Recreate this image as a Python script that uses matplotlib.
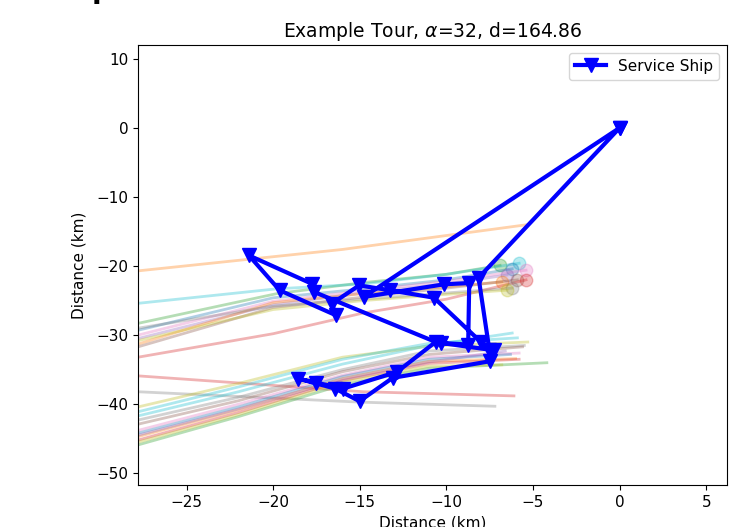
import matplotlib
matplotlib.use("Agg")
import matplotlib.pyplot as plt

# service ship tour (km), visiting order
tour_x = [0, -8.14, -7.52, -8.01, -10.72, -13.23, -15.03, -16.62, -16.37, -19.62,
          -21.40, -17.78, -17.63, -10.62, -12.85, -15.94, -17.55, -18.56, -16.43,
          -15.01, -13.10, -7.47, -7.27, -10.33, -8.74, -8.68, -10.14, -14.78, 0]
tour_y = [0, -21.69, -32.10, -30.99, -24.58, -23.52, -22.80, -25.45, -27.13, -23.52,
          -18.46, -22.55, -23.76, -30.99, -35.33, -37.73, -36.87, -36.29, -37.73,
          -39.57, -36.19, -33.78, -32.19, -31.13, -31.37, -22.46, -22.65, -24.48, 0]

# upper group of vessel tracks (end point gets a circle)
upper_colors = ["C2", "C9", "C0", "C6", "C4", "C1", "C5", "C3", "C7", "C8"]
upper_x = [
    [-27.8, -19.8, -14.8, -10.0, -6.9],
    [-27.8, -19.8, -14.8, -10.0, -5.8],
    [-27.8, -20.0, -14.8, -10.0, -6.2],
    [-27.8, -20.0, -14.8, -10.0, -5.4],
    [-27.8, -20.0, -14.8, -10.0, -6.5],
    [-27.8, -20.0, -14.8, -10.0, -6.8],
    [-27.8, -20.0, -14.8, -10.0, -5.9],
    [-27.8, -20.0, -14.8, -10.0, -5.4],
    [-27.8, -20.0, -14.8, -10.0, -6.2],
    [-27.8, -20.0, -14.8, -10.0, -6.5],
]
upper_y = [
    [-28.3, -24.0, -22.4, -21.2, -19.9],
    [-25.4, -23.3, -22.6, -21.2, -19.6],
    [-29.3, -24.6, -23.3, -22.0, -20.4],
    [-30.0, -25.1, -23.6, -22.2, -20.6],
    [-30.5, -25.6, -23.9, -22.6, -21.3],
    [-31.3, -25.3, -24.0, -23.0, -22.3],
    [-31.7, -26.0, -24.5, -23.2, -22.0],
    [-33.2, -29.8, -26.8, -24.8, -22.0],
    [-29.0, -25.8, -24.8, -23.9, -23.2],
    [-30.8, -26.3, -25.0, -24.1, -23.5],
]

# lone tracks
single_colors = ["C1", "C3", "C7"]
single_x = [[-27.8, -16.0, -5.3], [-27.8, -14.8, -6.1], [-27.8, -15.0, -7.2]]
single_y = [[-20.7, -17.6, -14.0], [-35.9, -38.2, -38.8], [-38.2, -39.7, -40.3]]

# lower group of vessel tracks
lower_colors = ["C8", "C9", "C9", "C7", "C5", "C6", "C0", "C1", "C3", "C4", "C2", "C8"]
lower_x = [
    [-27.8, -22.0, -16.0, -11.0, -5.3],
    [-27.8, -22.0, -16.0, -11.0, -5.9],
    [-27.8, -22.0, -16.0, -11.0, -6.2],
    [-27.8, -22.0, -16.0, -11.0, -5.5],
    [-27.8, -22.0, -16.0, -11.0, -5.6],
    [-27.8, -22.0, -16.0, -11.0, -5.8],
    [-27.8, -22.0, -16.0, -11.0, -6.3],
    [-27.8, -22.0, -16.0, -11.0, -6.0],
    [-27.8, -22.0, -16.0, -11.0, -5.8],
    [-27.8, -22.0, -16.0, -11.0, -6.6],
    [-27.8, -22.0, -16.0, -11.0, -4.2],
    [-27.8, -22.0, -16.0, -11.0, -6.8],
]
lower_y = [
    [-40.4, -37.0, -33.2, -31.6, -31.0],
    [-41.1, -37.5, -33.5, -31.2, -30.4],
    [-41.7, -38.2, -34.2, -31.5, -29.7],
    [-42.3, -39.0, -35.0, -32.3, -31.5],
    [-42.9, -39.5, -35.3, -32.8, -31.7],
    [-43.8, -40.0, -35.8, -33.2, -32.6],
    [-44.2, -40.4, -36.0, -33.5, -32.8],
    [-44.7, -40.8, -36.3, -33.8, -33.4],
    [-45.2, -41.2, -36.6, -34.1, -33.5],
    [-44.5, -40.7, -36.4, -33.9, -32.3],
    [-45.9, -41.8, -37.2, -34.8, -34.0],
    [-45.5, -41.5, -36.8, -34.5, -34.3],
]

fig = plt.figure(figsize=(7.31, 5.27), dpi=100)
ax = fig.add_axes([138 / 731, 1 - 485 / 527, 589 / 731, 440 / 527])

for xs, ys, c in zip(upper_x, upper_y, upper_colors):
    ax.plot(xs, ys, color=c, alpha=0.35, lw=2)
    ax.plot(xs[-1], ys[-1], "o", color=c, alpha=0.3, ms=9)

for xs, ys, c in zip(single_x, single_y, single_colors):
    ax.plot(xs, ys, color=c, alpha=0.35, lw=2)

for xs, ys, c in zip(lower_x, lower_y, lower_colors):
    ax.plot(xs, ys, color=c, alpha=0.35, lw=2)

ax.plot(tour_x, tour_y, color="blue", lw=3, marker="v", ms=9.5, label="Service Ship")

ax.set_xlim(-27.8, 6.2)
ax.set_ylim(-51.7, 12.0)
ax.set_title("Example Tour, $\\alpha$=32, d=164.86", fontsize=13.5)
ax.set_xlabel("Distance (km)", fontsize=11)
ax.set_ylabel("Distance (km)", fontsize=11, labelpad=7)
ax.tick_params(labelsize=11)
ax.legend(loc="upper right", fontsize=11)

# fragment of a heading that sits above the crop
fig.text(92 / 731, 1 + 2 / 527, "p", fontsize=20, fontweight="bold", va="baseline")

plt.savefig("out.png", dpi=100)
plt.close()
